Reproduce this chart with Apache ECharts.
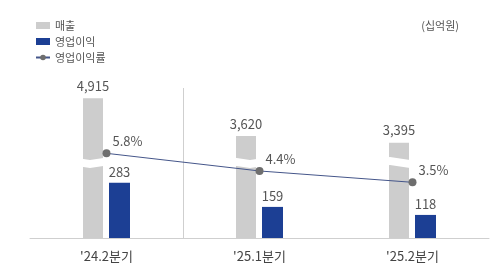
<!DOCTYPE html>
<html><head><meta charset="utf-8">
<script src="https://cdn.jsdelivr.net/npm/echarts@6/dist/echarts.min.js"></script>
<style>html,body{margin:0;padding:0;background:#fff}#c{width:500px;height:275px}</style>
</head><body><div id="c"></div>
<script>
const categories = ["'24.2분기", "'25.1분기", "'25.2분기"];
const sales = [4915, 3620, 3395];
const opProfit = [283, 159, 118];
const opMargin = [5.8, 4.4, 3.5];
const unitLabel = '(십억원)';
const seriesNames = ['매출', '영업이익', '영업이익률'];

const FONT = '"Noto Sans CJK KR", "Noto Sans", sans-serif';
const chart = echarts.init(document.getElementById('c'), null, {renderer: 'canvas'});
const fmt = v => Number(v).toLocaleString('en-US');
chart.setOption({
  animation: false,
  textStyle: {fontFamily: FONT},
  title: {text: unitLabel, right: 36, top: 15,
    textStyle: {fontSize: 11, fontWeight: 'normal', color: '#555', fontFamily: FONT}},
  legend: {orient: 'vertical', left: 30, top: 15, itemWidth: 14, itemHeight: 7, itemGap: 5,
    textStyle: {fontSize: 11, color: '#555', lineHeight: 11, fontFamily: FONT},
    data: [{name: seriesNames[0], icon: 'rect'}, {name: seriesNames[1], icon: 'rect'}, {name: seriesNames[2]}]},
  grid: {left: 30, right: 11, top: 88, bottom: 37},
  xAxis: {type: 'category', data: categories, z: 150,
    axisLine: {lineStyle: {color: '#cfcfcf'}}, axisTick: {show: false},
    axisLabel: {fontSize: 13, color: '#444', margin: 12, fontFamily: FONT},
    splitLine: {show: true, interval: (i) => i <= 1, showMinLine: false, showMaxLine: false,
      lineStyle: {color: '#cfcfcf'}}},
  yAxis: [
    {type: 'value', min: 0, max: 5267,
     breaks: [{start: 2466, end: 2870, gap: 274}],
     breakArea: {show: true, itemStyle: {color: '#fff', borderWidth: 0, opacity: 1},
       zigzagAmplitude: 1.5, zigzagMinSpan: 20, zigzagMaxSpan: 20, zigzagZ: 100, expandOnClick: false},
     axisLine: {show: false}, axisTick: {show: false}, axisLabel: {show: false}, splitLine: {show: false}},
    {type: 'value', min: 0, max: 767, show: false, splitLine: {show: false}},
    {type: 'value', min: -0.915, max: 10.98, show: false, splitLine: {show: false}}
  ],
  series: [
    {name: seriesNames[0], type: 'bar', yAxisIndex: 0, data: sales, barWidth: 20, barGap: '30%',
     itemStyle: {color: '#cdcdcd'},
     label: {show: true, position: 'top', distance: 6, fontSize: 13, color: '#555', fontFamily: FONT,
       formatter: p => fmt(p.value)}},
    {name: seriesNames[1], type: 'bar', yAxisIndex: 1, data: opProfit, barWidth: 21, barGap: '30%', z: 150,
     itemStyle: {color: '#1c3f94'},
     label: {show: true, position: 'top', distance: 4, fontSize: 13, color: '#555', fontFamily: FONT,
       formatter: p => fmt(p.value)}},
    {name: seriesNames[2], type: 'line', yAxisIndex: 2, data: opMargin, z: 160,
     symbol: 'circle', symbolSize: 8, lineStyle: {color: '#45568a', width: 1},
     itemStyle: {color: '#6e6e6e'},
     label: {show: true, position: 'right', distance: 2, offset: [0, -12], fontSize: 13, color: '#555', fontFamily: FONT,
       formatter: p => p.value.toFixed(1) + '%'}}
  ]
});
</script></body></html>
